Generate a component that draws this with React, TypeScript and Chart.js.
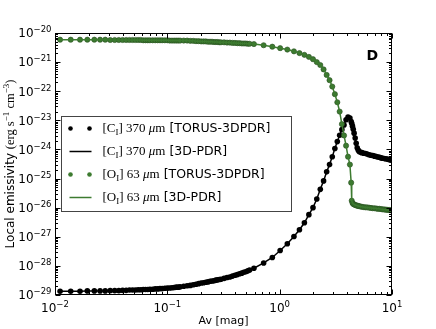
import React, { useEffect, useRef } from 'react';
import { Chart, registerables } from 'chart.js';

Chart.register(...registerables);

// ---- data (Av in mag, emissivity given as log10 of erg s^-1 cm^-3) ----
const avGrid = [
  0.0111, 0.0138, 0.0167, 0.0194, 0.0224, 0.0252, 0.028, 0.031, 0.034, 0.037,
  0.040, 0.043, 0.046, 0.049, 0.052, 0.055, 0.058, 0.061, 0.064, 0.067,
  0.070, 0.074, 0.078, 0.082, 0.086, 0.090, 0.095, 0.100, 0.105, 0.11,
  0.115, 0.12, 0.125, 0.13, 0.14, 0.15, 0.16, 0.17, 0.18, 0.19,
  0.20, 0.21, 0.22, 0.23, 0.24, 0.25, 0.26, 0.27, 0.28, 0.29,
  0.30, 0.32, 0.34, 0.36, 0.38, 0.40, 0.42, 0.44, 0.46, 0.48,
  0.50, 0.52, 0.54, 0.59, 0.72, 0.86, 1.01, 1.17, 1.34, 1.50,
  1.66, 1.82, 1.98, 2.14, 2.30, 2.46, 2.62, 2.78, 2.94, 3.10,
  3.26, 3.42, 3.58, 3.74, 3.90, 4.06, 4.22, 4.33, 4.38, 4.45,
  4.52, 4.6, 4.7, 4.8, 4.9, 5.0, 5.1, 5.25, 5.4, 5.6,
  5.8, 6.0, 6.25, 6.5, 6.75, 7.0, 7.25, 7.5, 7.75, 8.0,
  8.25, 8.5, 8.75, 9.0, 9.25, 9.5, 9.75, 10.0,
];

const ciLogEmissivity = [
  -28.87, -28.87, -28.87, -28.86, -28.86, -28.86, -28.86, -28.85, -28.85, -28.85,
  -28.84, -28.84, -28.83, -28.83, -28.83, -28.82, -28.82, -28.81, -28.81, -28.81,
  -28.80, -28.80, -28.79, -28.79, -28.78, -28.78, -28.77, -28.76, -28.76, -28.75,
  -28.74, -28.73, -28.73, -28.72, -28.70, -28.68, -28.67, -28.65, -28.63, -28.61,
  -28.59, -28.58, -28.56, -28.55, -28.53, -28.52, -28.51, -28.49, -28.48, -28.47,
  -28.46, -28.43, -28.40, -28.38, -28.35, -28.32, -28.30, -28.27, -28.25, -28.22,
  -28.20, -28.17, -28.14, -28.08, -27.90, -27.71, -27.47, -27.24, -26.99, -26.76,
  -26.52, -26.24, -26.00, -25.70, -25.37, -25.08, -24.77, -24.52, -24.25, -23.97,
  -23.73, -23.51, -23.32, -23.16, -22.98, -22.89, -22.92, -23.04, -23.10, -23.20,
  -23.31, -23.44, -23.61, -23.79, -23.94, -24.02, -24.07, -24.10, -24.11, -24.13,
  -24.14, -24.16, -24.18, -24.20, -24.21, -24.23, -24.24, -24.26, -24.27, -24.29,
  -24.30, -24.31, -24.32, -24.33, -24.34, -24.35, -24.36, -24.37,
];

const oiLogEmissivity = [
  -20.23, -20.23, -20.23, -20.23, -20.23, -20.23, -20.23, -20.24, -20.24, -20.24,
  -20.24, -20.24, -20.24, -20.24, -20.24, -20.24, -20.24, -20.25, -20.25, -20.25,
  -20.25, -20.25, -20.25, -20.25, -20.25, -20.25, -20.25, -20.25, -20.26, -20.26,
  -20.26, -20.26, -20.26, -20.26, -20.26, -20.26, -20.27, -20.27, -20.28, -20.28,
  -20.29, -20.29, -20.29, -20.30, -20.30, -20.30, -20.31, -20.31, -20.31, -20.32,
  -20.32, -20.32, -20.33, -20.33, -20.34, -20.34, -20.35, -20.35, -20.36, -20.36,
  -20.36, -20.37, -20.37, -20.38, -20.42, -20.47, -20.52, -20.57, -20.63, -20.69,
  -20.75, -20.82, -20.90, -21.00, -21.10, -21.25, -21.44, -21.62, -21.84, -22.10,
  -22.38, -22.70, -23.13, -23.52, -23.87, -24.25, -24.52, -25.14, -25.76, -25.84,
  -25.87, -25.89, -25.91, -25.92, -25.93, -25.94, -25.95, -25.96, -25.97, -25.98,
  -25.99, -25.99, -26.00, -26.01, -26.02, -26.02, -26.03, -26.04, -26.04, -26.05,
  -26.06, -26.06, -26.07, -26.07, -26.08, -26.08, -26.09, -26.09,
];

const xTickExponents = [-2, -1, 0, 1];
const yTickExponents = [-29, -28, -27, -26, -25, -24, -23, -22, -21, -20];

const lineSpecies = ['C', 'C', 'O', 'O'];
const lineWavelengths = ['370', '370', '63', '63'];
const modelNames = ['TORUS-3DPDR', '3D-PDR', 'TORUS-3DPDR', '3D-PDR'];
const panelLabel = 'D';
const xAxisTitle = 'Av [mag]';

// ---- styles ----
const BLACK = '#000000';
const GREEN = '#3d7b30';
const GREEN_EDGE = '#264d1f';
const SANS = '"DejaVu Sans", sans-serif';
const SERIF = '"Liberation Serif", serif';

type Run = { text: string; font: string; dy?: number };

function runsWidth(ctx: CanvasRenderingContext2D, runs: Run[]) {
  let w = 0;
  for (const r of runs) {
    ctx.font = r.font;
    w += ctx.measureText(r.text).width;
  }
  return w;
}

function drawRuns(ctx: CanvasRenderingContext2D, x: number, y: number, runs: Run[]) {
  let cx = x;
  for (const r of runs) {
    ctx.font = r.font;
    ctx.fillText(r.text, cx, y + (r.dy || 0));
    cx += ctx.measureText(r.text).width;
  }
  return cx;
}

const toPoints = (vals: number[]) => avGrid.map((a, i) => ({ x: a, y: Math.pow(10, vals[i]) }));

const decorPlugin = {
  id: 'decor',
  afterDraw(chart: any) {
    const { ctx, chartArea: a, scales } = chart;
    const xs = scales.x;
    const ys = scales.y;
    ctx.save();
    ctx.textBaseline = 'alphabetic';
    ctx.textAlign = 'left';

    const L = Math.round(a.left) + 0.5;
    const R = Math.round(a.right) - 0.5;
    const T = Math.round(a.top) + 0.5;
    const B = Math.round(a.bottom) - 0.5;

    // ticks
    ctx.strokeStyle = BLACK;
    ctx.lineWidth = 1;
    ctx.beginPath();
    const MAJ = 5;
    const MIN = 2.5;
    xTickExponents.forEach((e) => {
      for (let k = 1; k <= 9; k++) {
        const v = k * Math.pow(10, e);
        if (v > xs.max * 1.0001) break;
        const px = Math.round(xs.getPixelForValue(v)) + 0.5;
        const len = k === 1 ? MAJ : MIN;
        ctx.moveTo(px, B);
        ctx.lineTo(px, B - len);
        ctx.moveTo(px, T);
        ctx.lineTo(px, T + len);
      }
    });
    yTickExponents.forEach((e) => {
      for (let k = 1; k <= 9; k++) {
        const v = k * Math.pow(10, e);
        if (v > ys.max * 1.0001) break;
        const py = Math.round(ys.getPixelForValue(v)) + 0.5;
        const len = k === 1 ? MAJ : MIN;
        ctx.moveTo(L, py);
        ctx.lineTo(L + len, py);
        ctx.moveTo(R, py);
        ctx.lineTo(R - len, py);
      }
    });
    ctx.stroke();

    // frame
    ctx.strokeRect(L, T, R - L, B - T);

    // tick labels
    ctx.fillStyle = BLACK;
    const baseFont = `12px ${SANS}`;
    const expFont = `8.5px ${SANS}`;
    xTickExponents.forEach((e) => {
      const runs: Run[] = [
        { text: '10', font: baseFont },
        { text: String(e).replace('-', '\u2212'), font: expFont, dy: -5 },
      ];
      const w = runsWidth(ctx, runs);
      const px = xs.getPixelForValue(Math.pow(10, e));
      drawRuns(ctx, px - w / 2, a.bottom + 17, runs);
    });
    yTickExponents.forEach((e) => {
      const runs: Run[] = [
        { text: '10', font: baseFont },
        { text: String(e).replace('-', '\u2212'), font: expFont, dy: -5 },
      ];
      const w = runsWidth(ctx, runs);
      const py = ys.getPixelForValue(Math.pow(10, e));
      drawRuns(ctx, a.left - 3.5 - w, py + 4.3, runs);
    });

    // x title
    ctx.font = `11px ${SANS}`;
    const xtw = ctx.measureText(xAxisTitle).width;
    ctx.fillText(xAxisTitle, (a.left + a.right) / 2 - xtw / 2, a.bottom + 29);

    // y title (rotated)
    const yRuns: Run[] = [
      { text: 'Local emissivity ', font: `12px ${SANS}` },
      { text: '(erg s', font: `12.5px ${SERIF}` },
      { text: '\u22121', font: `9px ${SERIF}`, dy: -5 },
      { text: ' cm', font: `12.5px ${SERIF}` },
      { text: '\u22123', font: `9px ${SERIF}`, dy: -5 },
      { text: ')', font: `12.5px ${SERIF}` },
    ];
    const ytw = runsWidth(ctx, yRuns);
    ctx.save();
    ctx.translate(14, (a.top + a.bottom) / 2);
    ctx.rotate(-Math.PI / 2);
    drawRuns(ctx, -ytw / 2, 0, yRuns);
    ctx.restore();

    // panel label
    ctx.font = `bold 14px ${SANS}`;
    ctx.fillText(panelLabel, a.right - 25.5, a.top + 26.5);

    // legend
    const lx = a.left + 6.5;
    const ly = a.top + 83.5;
    const lw = 230;
    const lh = 95;
    ctx.fillStyle = '#ffffff';
    ctx.fillRect(lx, ly, lw, lh);
    ctx.strokeStyle = '#444444';
    ctx.lineWidth = 1;
    ctx.strokeRect(lx, ly, lw, lh);
    for (let i = 0; i < 4; i++) {
      const my = ly + 12 + i * 23;
      const color = i < 2 ? BLACK : GREEN;
      const dots = i % 2 === 0;
      if (dots) {
        ctx.fillStyle = color;
        [lx + 9, lx + 28].forEach((cx) => {
          ctx.beginPath();
          ctx.arc(cx, my, 2.3, 0, Math.PI * 2);
          ctx.fill();
        });
      } else {
        ctx.strokeStyle = color;
        ctx.lineWidth = 1.5;
        ctx.beginPath();
        ctx.moveTo(lx + 8, my);
        ctx.lineTo(lx + 30, my);
        ctx.stroke();
      }
      ctx.fillStyle = BLACK;
      const runs: Run[] = [
        { text: '[' + lineSpecies[i], font: `13px ${SERIF}` },
        { text: 'I', font: `9px ${SERIF}`, dy: 3 },
        { text: '] ' + lineWavelengths[i] + ' ', font: `13px ${SERIF}` },
        { text: '\u03bc', font: `italic 13px ${SERIF}` },
        { text: 'm', font: `13px ${SERIF}` },
        { text: ' [' + modelNames[i] + ']', font: `12.5px ${SANS}` },
      ];
      drawRuns(ctx, lx + 41, my + 3.5, runs);
    }

    ctx.restore();
  },
};

export default function App() {
  const ref = useRef<HTMLCanvasElement | null>(null);
  useEffect(() => {
    document.body.style.margin = '0';
    const canvas = ref.current;
    if (!canvas) return;
    const chart = new Chart(canvas, {
      type: 'scatter',
      data: {
        datasets: [
          {
            label: '[CI] 370 um [TORUS-3DPDR]',
            data: toPoints(ciLogEmissivity),
            showLine: false,
            pointRadius: 2.8,
            pointBorderWidth: 0,
            pointBackgroundColor: BLACK,
            borderColor: BLACK,
            order: 3,
          },
          {
            label: '[CI] 370 um [3D-PDR]',
            data: toPoints(ciLogEmissivity),
            showLine: true,
            pointRadius: 0,
            borderColor: BLACK,
            borderWidth: 1.5,
            tension: 0,
            order: 2,
          },
          {
            label: '[OI] 63 um [TORUS-3DPDR]',
            data: toPoints(oiLogEmissivity),
            showLine: false,
            pointRadius: 2.6,
            pointBorderWidth: 0.6,
            pointBorderColor: GREEN_EDGE,
            pointBackgroundColor: GREEN,
            borderColor: GREEN,
            order: 1,
          },
          {
            label: '[OI] 63 um [3D-PDR]',
            data: toPoints(oiLogEmissivity),
            showLine: true,
            pointRadius: 0,
            borderColor: GREEN,
            borderWidth: 1.5,
            tension: 0,
            order: 0,
          },
        ],
      },
      options: {
        animation: false,
        responsive: false,
        events: [],
        layout: { padding: { left: 55, top: 33, right: 44, bottom: 34 } },
        scales: {
          x: { type: 'logarithmic', min: 0.01, max: 10, display: false },
          y: { type: 'logarithmic', min: 1e-29, max: 1e-20, display: false },
        },
        plugins: { legend: { display: false }, tooltip: { enabled: false } },
      },
      plugins: [decorPlugin],
    } as any);
    return () => chart.destroy();
  }, []);
  return (
    <div style={{ width: 436, height: 329, background: '#fff' }}>
      <canvas ref={ref} width={436} height={329} style={{ display: 'block' }} />
    </div>
  );
}
